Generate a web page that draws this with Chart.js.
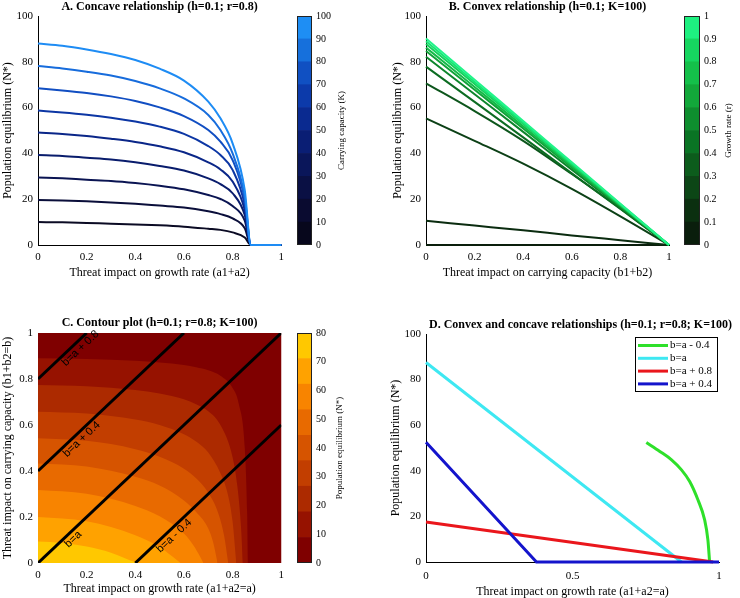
<!DOCTYPE html>
<html>
<head>
<meta charset="utf-8">
<script src="https://cdn.jsdelivr.net/npm/chart.js@4.4.0/dist/chart.umd.min.js"></script>
<style>
  html, body { margin: 0; padding: 0; background: #fff; }
  #wrap { position: relative; width: 740px; height: 598px; overflow: hidden; }
  canvas { position: absolute; }
</style>
</head>
<body>
<div id="wrap">
  <canvas id="chartA" style="left:0;top:0;width:290px;height:290px" width="290" height="290"></canvas>
  <canvas id="barA" style="left:290px;top:0;width:70px;height:290px" width="70" height="290"></canvas>
  <canvas id="chartB" style="left:370px;top:0;width:310px;height:290px" width="310" height="290"></canvas>
  <canvas id="barB" style="left:680px;top:0;width:60px;height:290px" width="60" height="290"></canvas>
  <canvas id="chartC" style="left:0;top:300px;width:290px;height:298px" width="290" height="298"></canvas>
  <canvas id="barC" style="left:290px;top:300px;width:70px;height:298px" width="70" height="298"></canvas>
  <canvas id="chartD" style="left:370px;top:300px;width:370px;height:298px" width="370" height="298"></canvas>
</div>
<script>
const SERIF = "'Liberation Serif', 'Times New Roman', serif";
const SANS = "'Liberation Sans', Arial, sans-serif";

// A. concave curves, one per carrying capacity
const aGrid = [0, 0.1, 0.2, 0.3, 0.4, 0.5, 0.6, 0.7, 0.75, 0.8, 0.85, 0.875, 1];
const aK10 = [10.0, 9.9, 9.6, 9.3, 9.0, 8.6, 8.0, 7.1, 6.6, 5.5, 3.3, 0, 0];
const aK20 = [19.7, 19.4, 19.1, 18.6, 18.0, 17.2, 16.4, 14.7, 13.5, 11.6, 7.3, 0, 0];
const aK30 = [29.5, 29.1, 28.5, 28.0, 27.1, 25.9, 24.3, 21.8, 20.1, 17.0, 10.6, 0, 0];
const aK40 = [39.3, 38.9, 38.1, 37.3, 36.1, 34.5, 32.5, 29.1, 26.6, 22.6, 13.1, 0, 0];
const aK50 = [49.1, 48.5, 47.6, 46.4, 45.0, 43.1, 40.5, 36.1, 33.0, 27.7, 15.3, 0, 0];
const aK60 = [58.7, 57.9, 56.9, 55.6, 53.9, 51.7, 48.5, 43.2, 39.3, 32.8, 17.5, 0, 0];
const aK70 = [68.4, 67.5, 66.4, 64.9, 62.9, 60.1, 56.3, 50.2, 45.1, 37.1, 19.7, 0, 0];
const aK80 = [78.2, 77.1, 75.7, 74.0, 71.6, 68.4, 64.0, 56.8, 50.2, 40.0, 21.1, 0, 0];
const aK90 = [88.0, 87.0, 85.4, 83.4, 80.8, 77.0, 71.8, 62.6, 55.3, 44.4, 24.0, 0, 0];
const aCurves = [aK10, aK20, aK30, aK40, aK50, aK60, aK70, aK80, aK90];
const aColors = ['#0b0b24', '#0a0e3a', '#0a1452', '#091c6c', '#0a2688', '#0c36a4', '#114ec2', '#176cdc', '#1e8cf4'];
const kEdges = [0, 10, 20, 30, 40, 50, 60, 70, 80, 90, 100];
const kBandColors = ['#07071c', '#0a0b30', '#0a1044', '#0a165a', '#0a1e74', '#0a2a90', '#0c3aaa', '#1050c2', '#1670dc', '#1e8ef4'];

// B. convex lines, one per growth rate
const bGrid = [0, 0.2, 0.4, 0.6, 0.8, 1];
const bR00 = [0, 0, 0, 0, 0, 0];
const bR01 = [10.6, 8.5, 6.4, 4.2, 2.1, 0];
const bR02 = [55.3, 45.5, 35.5, 24.5, 12.5, 0];
const bR03 = [70.6, 58.5, 45.5, 31.0, 16.0, 0];
const bR04 = [77.9, 62.5, 47.0, 31.3, 15.7, 0];
const bR05 = [82.2, 65.8, 49.4, 32.9, 16.5, 0];
const bR06 = [84.7, 67.8, 50.9, 33.9, 17.0, 0];
const bR07 = [86.2, 69.0, 51.8, 34.5, 17.3, 0];
const bR08 = [87.8, 70.3, 52.8, 35.2, 17.6, 0];
const bR09 = [89.0, 71.2, 53.4, 35.6, 17.8, 0];
const bR10 = [90.2, 72.2, 54.1, 36.1, 18.0, 0];
const bLines = [bR00, bR01, bR02, bR03, bR04, bR05, bR06, bR07, bR08, bR09, bR10];
const bColors = ['#0a1e0c', '#0b2c10', '#0c4016', '#0d561c', '#0c6c22', '#0d862c', '#10a238', '#14ba48', '#16d05c', '#18e472', '#22f48a'];
const rEdges = [0, 0.1, 0.2, 0.3, 0.4, 0.5, 0.6, 0.7, 0.8, 0.9, 1];
const rBandColors = ['#0a1e0c', '#0b3010', '#0c4616', '#0c5c1c', '#0a7424', '#0e8e2e', '#12a83a', '#14c04a', '#16d660', '#1ef080'];

// C. contour boundaries (a on x, b on y), outermost first
const c1X = [0, 0.2, 0.4, 0.5, 0.6, 0.65, 0.7, 0.75, 0.8, 0.825, 0.85, 0.86, 0.863];
const c1Y = [0.89, 0.887, 0.879, 0.872, 0.861, 0.851, 0.838, 0.814, 0.761, 0.694, 0.5, 0.214, 0];
const c2X = [0, 0.2, 0.4, 0.5, 0.6, 0.65, 0.7, 0.75, 0.8, 0.82, 0.835, 0.842];
const c2Y = [0.774, 0.769, 0.752, 0.737, 0.712, 0.69, 0.66, 0.6, 0.46, 0.33, 0.15, 0];
const c3X = [0, 0.2, 0.4, 0.5, 0.6, 0.65, 0.7, 0.75, 0.78, 0.8, 0.815];
const c3Y = [0.658, 0.65, 0.624, 0.6, 0.56, 0.528, 0.48, 0.39, 0.3, 0.18, 0];
const c4X = [0, 0.2, 0.4, 0.5, 0.6, 0.65, 0.7, 0.74, 0.765, 0.782];
const c4Y = [0.542, 0.531, 0.495, 0.462, 0.41, 0.368, 0.305, 0.22, 0.12, 0];
const c5X = [0, 0.2, 0.4, 0.5, 0.6, 0.65, 0.7, 0.72, 0.738];
const c5Y = [0.433, 0.42, 0.375, 0.337, 0.272, 0.222, 0.15, 0.09, 0];
const c6X = [0, 0.2, 0.4, 0.5, 0.6, 0.64, 0.665, 0.68];
const c6Y = [0.317, 0.301, 0.248, 0.203, 0.128, 0.075, 0.03, 0];
const c7X = [0, 0.2, 0.4, 0.5, 0.55, 0.586];
const c7Y = [0.2, 0.181, 0.121, 0.07, 0.03, 0];
const c8X = [0, 0.1, 0.2, 0.3, 0.4, 0.41];
const c8Y = [0.093, 0.087, 0.072, 0.045, 0.003, 0];
const cLevelsX = [c1X, c2X, c3X, c4X, c5X, c6X, c7X, c8X];
const cLevelsY = [c1Y, c2Y, c3Y, c4Y, c5Y, c6Y, c7Y, c8Y];
const cBackground = '#7f0000';
const cLevelColors = ['#961200', '#ac2a00', '#c23e00', '#d65400', '#e86a00', '#f88400', '#ffa200', '#ffc800'];
const nEdges = [0, 8.9, 17.8, 26.7, 35.6, 44.4, 53.3, 62.2, 71.1, 80];
const cDiagLabels = ['b=a + 0.8', 'b=a + 0.4', 'b=a', 'b=a - 0.4'];
const cDiagX = [[0, 0.2], [0, 0.6], [0, 1], [0.4, 1]];
const cDiagY = [[0.8, 1], [0.4, 1], [0, 1], [0, 0.6]];
const cLabelAt = [0.155, 0.16, 0.125, 0.54];

// D. the four transects
const dLabels = ['b=a - 0.4', 'b=a', 'b=a + 0.8', 'b=a + 0.4'];
const dColors = ['#2ee02a', '#3ee8f2', '#ea161c', '#1414cc'];
const dGreenX = [0.752, 0.798, 0.838, 0.872, 0.9, 0.928, 0.951, 0.962, 0.968];
const dGreenY = [52.4, 48.5, 44.8, 40.4, 35.3, 27.3, 18.5, 9.8, 0];
const dCyanX = [0, 0.872];
const dCyanY = [87.5, 0];
const dRedX = [0, 0.98];
const dRedY = [17.5, 0];
const dBlueX = [0, 0.377, 1];
const dBlueY = [52.5, 0, 0];

function pts(xs, ys) {
  return xs.map((x, i) => ({ x, y: ys[i] }));
}

function tickText(v) {
  return String(Number(v.toFixed(3)));
}

const panelTitle = {
  id: 'panelTitle',
  afterDraw(chart, args, opts) {
    if (!opts.text) return;
    const { ctx, chartArea } = chart;
    ctx.save();
    ctx.font = 'bold 12px ' + SERIF;
    ctx.fillStyle = '#000';
    ctx.textAlign = 'center';
    ctx.textBaseline = 'middle';
    ctx.fillText(opts.text, (chartArea.left + chartArea.right) / 2 + (opts.dx || 0), opts.y);
    ctx.restore();
  }
};

const sideTitle = {
  id: 'sideTitle',
  afterDraw(chart, args, opts) {
    const { ctx, chartArea } = chart;
    ctx.save();
    ctx.strokeStyle = '#222';
    ctx.lineWidth = 1;
    ctx.strokeRect(chartArea.left + 0.5, chartArea.top + 0.5, chartArea.right - chartArea.left - 1, chartArea.bottom - chartArea.top - 1);
    ctx.translate(opts.x, (chartArea.top + chartArea.bottom) / 2);
    ctx.rotate(-Math.PI / 2);
    ctx.font = '9px ' + SERIF;
    ctx.fillStyle = '#000';
    ctx.textAlign = 'center';
    ctx.textBaseline = 'middle';
    ctx.fillText(opts.text, 0, 0);
    ctx.restore();
  }
};

const areaBackground = {
  id: 'areaBackground',
  beforeDatasetsDraw(chart, args, opts) {
    if (!opts.color) return;
    const { ctx, chartArea } = chart;
    ctx.save();
    ctx.fillStyle = opts.color;
    ctx.fillRect(chartArea.left, chartArea.top, chartArea.right - chartArea.left, chartArea.bottom - chartArea.top);
    ctx.restore();
  }
};

const lineLabels = {
  id: 'lineLabels',
  afterDatasetsDraw(chart, args, opts) {
    if (!opts.items) return;
    const { ctx, scales: { x, y } } = chart;
    ctx.save();
    ctx.font = '11px ' + SANS;
    ctx.fillStyle = '#000';
    ctx.textAlign = 'center';
    ctx.textBaseline = 'middle';
    opts.items.forEach(it => {
      const ang = Math.atan2(y.getPixelForValue(1) - y.getPixelForValue(0), x.getPixelForValue(1) - x.getPixelForValue(0));
      const px = x.getPixelForValue(it.a) - Math.sin(ang) * opts.offset;
      const py = y.getPixelForValue(it.b) + Math.cos(ang) * opts.offset;
      ctx.save();
      ctx.translate(px, py);
      ctx.rotate(ang);
      ctx.fillText(it.text, 0, 0);
      ctx.restore();
    });
    ctx.restore();
  }
};

const boxLegend = {
  id: 'boxLegend',
  afterDraw(chart, args, opts) {
    if (!opts.box) return;
    const { ctx } = chart;
    const [l, t, w, h] = opts.box;
    ctx.save();
    ctx.fillStyle = '#fff';
    ctx.fillRect(l, t, w, h);
    ctx.strokeStyle = '#000';
    ctx.lineWidth = 1;
    ctx.strokeRect(l + 0.5, t + 0.5, w, h);
    ctx.font = '11px ' + SERIF;
    ctx.textBaseline = 'middle';
    ctx.textAlign = 'left';
    chart.data.datasets.forEach((ds, i) => {
      const yy = t + opts.first + i * opts.step;
      ctx.strokeStyle = ds.borderColor;
      ctx.lineWidth = 3;
      ctx.beginPath();
      ctx.moveTo(l + 3, yy);
      ctx.lineTo(l + 33, yy);
      ctx.stroke();
      ctx.fillStyle = '#000';
      ctx.fillText(ds.label, l + 35, yy);
    });
    ctx.restore();
  }
};

function xAxis(o) {
  return {
    type: 'linear',
    min: o.min, max: o.max,
    grid: { display: false, drawTicks: false },
    border: { display: o.border, color: '#000', width: 1 },
    ticks: { stepSize: o.step, padding: o.tickPad, color: '#000', autoSkip: false, maxRotation: 0, callback: tickText, font: { family: SERIF, size: 11 } },
    title: { display: true, text: o.title, color: '#000', font: { family: SERIF, size: 12, lineHeight: o.lh || 1.2 }, padding: { top: 0, bottom: o.titlePad } },
    afterFit: s => { s.height = o.h; }
  };
}

function yAxis(o) {
  return {
    type: 'linear',
    min: o.min, max: o.max,
    grid: { display: false, drawTicks: false },
    border: { display: o.border, color: '#000', width: 1 },
    ticks: { stepSize: o.step, padding: 5, color: '#000', autoSkip: false, callback: tickText, font: { family: SERIF, size: 11 } },
    title: { display: true, text: o.title, color: '#000', font: { family: SERIF, size: 12 }, padding: { top: 1, bottom: 0 } },
    afterFit: s => { s.width = o.w; }
  };
}

const baseOptions = {
  responsive: false,
  animation: false,
  events: [],
  elements: { point: { radius: 0 } }
};

function colorbar(id, edges, colors, step, title, titleX, pad, yWidth) {
  new Chart(document.getElementById(id), {
    type: 'bar',
    data: {
      labels: [''],
      datasets: colors.map((c, i) => ({
        data: [[edges[i], edges[i + 1]]],
        backgroundColor: c,
        borderWidth: 0,
        barPercentage: 1,
        categoryPercentage: 1,
        grouped: false
      }))
    },
    options: {
      ...baseOptions,
      layout: { padding: pad },
      plugins: { legend: { display: false }, tooltip: { enabled: false }, sideTitle: { text: title, x: titleX } },
      scales: {
        x: { display: false },
        y: {
          position: 'right',
          min: edges[0], max: edges[edges.length - 1],
          grid: { display: false, drawTicks: false },
          border: { display: false },
          ticks: { stepSize: step, padding: 4, color: '#000', autoSkip: false, callback: tickText, font: { family: SERIF, size: 10 } },
          afterFit: s => { s.width = yWidth; }
        }
      }
    },
    plugins: [sideTitle]
  });
}

// Panel A
new Chart(document.getElementById('chartA'), {
  type: 'line',
  data: {
    datasets: aCurves.map((ys, i) => ({
      data: pts(aGrid, ys),
      borderColor: aColors[i],
      borderWidth: 2,
      cubicInterpolationMode: 'monotone',
      fill: false,
      clip: false,
      order: aCurves.length - i
    }))
  },
  options: {
    ...baseOptions,
    layout: { padding: { left: 0, right: 8, top: 16, bottom: 0 } },
    plugins: { legend: { display: false }, tooltip: { enabled: false }, panelTitle: { text: 'A. Concave relationship (h=0.1; r=0.8)', y: 7 } },
    scales: {
      x: xAxis({ min: 0, max: 1, step: 0.2, border: true, tickPad: 6, title: 'Threat impact on growth rate (a1+a2)', titlePad: 10, h: 45 }),
      y: yAxis({ min: 0, max: 100, step: 20, border: true, title: 'Population equilibrium (N*)', w: 38 })
    }
  },
  plugins: [panelTitle]
});
colorbar('barA', kEdges, kBandColors, 10, 'Carrying capacity (K)', 52, { left: 7, right: 0, top: 16, bottom: 45 }, 48);

// Panel B
new Chart(document.getElementById('chartB'), {
  type: 'line',
  data: {
    datasets: bLines.map((ys, i) => ({
      data: pts(bGrid, ys),
      borderColor: bColors[i],
      borderWidth: 2,
      cubicInterpolationMode: 'monotone',
      fill: false,
      clip: false,
      order: bLines.length - i
    }))
  },
  options: {
    ...baseOptions,
    layout: { padding: { left: 20, right: 11, top: 16, bottom: 0 } },
    plugins: { legend: { display: false }, tooltip: { enabled: false }, panelTitle: { text: 'B. Convex relationship (h=0.1; K=100)', y: 7 } },
    scales: {
      x: xAxis({ min: 0, max: 1, step: 0.2, border: true, tickPad: 6, title: 'Threat impact on carrying capacity (b1+b2)', titlePad: 10, h: 45 }),
      y: yAxis({ min: 0, max: 100, step: 20, border: true, title: 'Population equilibrium (N*)', w: 36 })
    }
  },
  plugins: [panelTitle]
});
colorbar('barB', rEdges, rBandColors, 0.1, 'Growth rate (r)', 49, { left: 4, right: 0, top: 16, bottom: 45 }, 40);

// Panel C
const cDatasets = cLevelsX.map((xs, i) => ({
  data: pts(xs, cLevelsY[i]),
  borderWidth: 0,
  borderColor: cLevelColors[i],
  backgroundColor: cLevelColors[i],
  cubicInterpolationMode: 'monotone',
  fill: 'origin',
  order: 20 - i
}));
cDiagX.forEach((xs, i) => {
  cDatasets.push({
    data: pts(xs, cDiagY[i]),
    borderColor: '#000',
    borderWidth: 3,
    fill: false,
    order: 0
  });
});
new Chart(document.getElementById('chartC'), {
  type: 'line',
  data: { datasets: cDatasets },
  options: {
    ...baseOptions,
    layout: { padding: { left: 0, right: 8, top: 33, bottom: 0 } },
    plugins: {
      legend: { display: false }, tooltip: { enabled: false },
      panelTitle: { text: 'C. Contour plot (h=0.1; r=0.8; K=100)', y: 23 },
      areaBackground: { color: cBackground },
      lineLabels: {
        offset: 7,
        items: cDiagLabels.map((t, i) => ({
          text: t,
          a: cLabelAt[i],
          b: cLabelAt[i] + (cDiagY[i][0] - cDiagX[i][0])
        }))
      }
    },
    scales: {
      x: xAxis({ min: 0, max: 1, step: 0.2, border: false, tickPad: 6, title: 'Threat impact on growth rate (a1+a2=a)', titlePad: 2, h: 35 }),
      y: yAxis({ min: 0, max: 1, step: 0.2, border: false, title: 'Threat impact on carrying capacity (b1+b2=b)', w: 38 })
    }
  },
  plugins: [panelTitle, areaBackground, lineLabels]
});
colorbar('barC', nEdges, [cBackground].concat(cLevelColors), 10, 'Population equilibrium (N*)', 50, { left: 7, right: 0, top: 33, bottom: 35 }, 48);

// Panel D
const dXs = [dGreenX, dCyanX, dRedX, dBlueX];
const dYs = [dGreenY, dCyanY, dRedY, dBlueY];
const dOrder = [3, 2, 1, 0];
new Chart(document.getElementById('chartD'), {
  type: 'line',
  data: {
    datasets: dLabels.map((label, i) => ({
      label,
      data: pts(dXs[i], dYs[i]),
      borderColor: dColors[i],
      borderWidth: 3,
      cubicInterpolationMode: i === 0 ? 'monotone' : 'default',
      tension: 0,
      fill: false,
      clip: false,
      order: dOrder[i]
    }))
  },
  options: {
    ...baseOptions,
    layout: { padding: { left: 18, right: 21, top: 34, bottom: 0 } },
    plugins: {
      legend: { display: false }, tooltip: { enabled: false },
      panelTitle: { text: 'D. Convex and concave relationships (h=0.1; r=0.8; K=100)', y: 25, dx: 8 },
      boxLegend: { box: [265, 37, 82, 54], first: 8.5, step: 12.8 }
    },
    scales: {
      x: xAxis({ min: 0, max: 1, step: 0.5, border: true, tickPad: 8, title: 'Threat impact on growth rate (a1+a2=a)', titlePad: 0, lh: 1, h: 36 }),
      y: yAxis({ min: 0, max: 100, step: 20, border: true, title: 'Population equilibrium (N*)', w: 38 })
    }
  },
  plugins: [panelTitle, boxLegend]
});
</script>
</body>
</html>
